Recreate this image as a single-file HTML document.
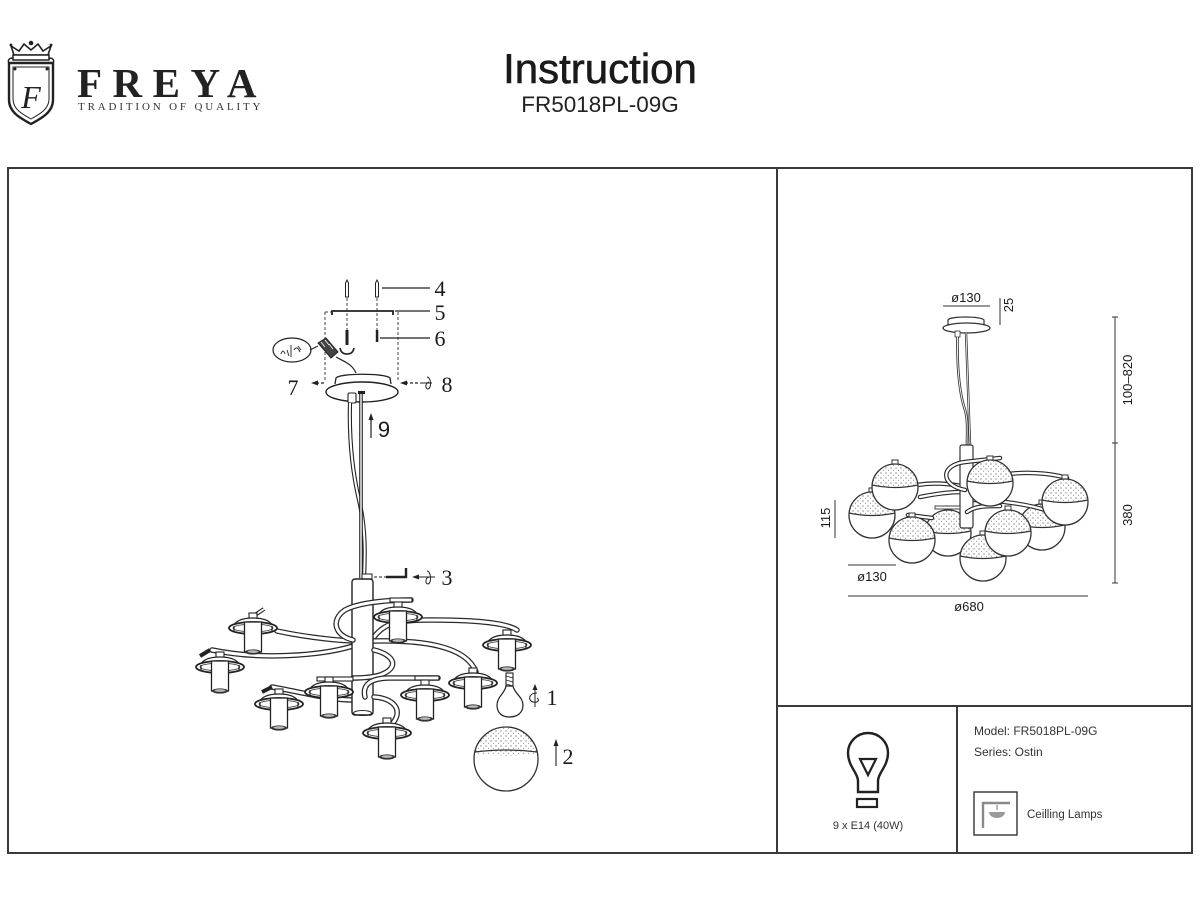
<!DOCTYPE html>
<html>
<head>
<meta charset="utf-8">
<style>
html,body{margin:0;padding:0;background:#fff;}
body{width:1200px;height:900px;overflow:hidden;}
svg{display:block;}
.to{fill:none;stroke:#2a2a2a;stroke-width:5.5;stroke-linecap:round;}
.ti{fill:none;stroke:#fff;stroke-width:3;stroke-linecap:round;}
.ln{fill:none;stroke:#222;stroke-width:1.3;}
.lbl{font-family:"Liberation Serif",serif;font-size:22px;fill:#1a1a1a;}
.dim{font-family:"Liberation Sans",sans-serif;font-size:13px;fill:#1a1a1a;}
.inf{font-family:"Liberation Sans",sans-serif;font-size:12px;fill:#333;}
</style>
</head>
<body>
<svg width="1200" height="900" viewBox="0 0 1200 900" xmlns="http://www.w3.org/2000/svg">
<defs>
  <pattern id="dots" patternUnits="userSpaceOnUse" width="5" height="5">
    <circle cx="1" cy="1" r="0.6" fill="#555"/>
    <circle cx="3.6" cy="3.2" r="0.5" fill="#666"/>
  </pattern>
  <clipPath id="gtop"><path d="M-24,-2 Q0,3 24,-2 L24,-30 L-24,-30 Z"/></clipPath>
  <g id="globe">
    <rect x="-3" y="-27" width="6" height="5" fill="#fff" stroke="#333" stroke-width="1"/>
    <circle r="23" fill="#fff"/>
    <circle r="23" fill="url(#dots)" clip-path="url(#gtop)"/>
    <path d="M-23,-2 Q0,3 23,-2" fill="none" stroke="#333" stroke-width="1.2"/>
    <circle r="23" fill="none" stroke="#333" stroke-width="1.3"/>
  </g>
  <g id="shade">
    <rect x="-4" y="-15" width="8" height="6" fill="#fff" stroke="#222" stroke-width="1.1"/>
    <path d="M-20,-1 Q-17,-10 0,-10 Q17,-10 20,-1" fill="#fff" stroke="#222" stroke-width="1.3"/>
    <ellipse rx="24" ry="6" fill="#fff" stroke="#222" stroke-width="1.8"/>
    <ellipse rx="20" ry="3.8" fill="none" stroke="#444" stroke-width="0.9"/>
    <line x1="-19" y1="-2" x2="-19" y2="4" stroke="#222" stroke-width="1.2"/>
    <line x1="19" y1="-2" x2="19" y2="4" stroke="#222" stroke-width="1.2"/>
    <rect x="-8.5" y="-6" width="17" height="30" fill="#fff" stroke="#222" stroke-width="1.3"/>
    <ellipse cx="0" cy="24" rx="8" ry="2.6" fill="#333"/>
    <ellipse cx="0" cy="23.6" rx="5.5" ry="1.3" fill="#bbb"/>
  </g>
  <!-- left arms -->
  <path id="a1" d="M353,641 C330,640 300,636 277,631"/>
  <path id="a2" d="M353,646 C320,656 260,660 212,650"/>
  <path id="a3" d="M353,640 C335,636 330,620 345,610 C360,602 390,600 411,600"/>
  <path id="a4" d="M374,637 C385,622 400,620 430,620 C470,620 505,622 517,630"/>
  <path id="a5" d="M374,641 C420,640 466,645 476,672"/>
  <path id="a6" d="M374,650 C395,655 400,668 380,675 C370,678 360,678 353,678"/>
  <path id="a7" d="M353,700 C330,700 300,692 272,687"/>
  <path id="a8" d="M365,697 C362,685 370,678 390,678 L438,678"/>
  <path id="a9" d="M374,697 C395,698 405,712 390,726"/>
  <!-- right arms -->
  <path id="r1" d="M965,490 C940,485 940,465 965,462 L1000,458"/>
  <path id="r2" d="M917,485 C935,482 950,484 961,486"/>
  <path id="r3" d="M920,497 C935,494 950,492 961,492"/>
  <path id="r4" d="M973,488 C990,470 1040,470 1067,478"/>
  <path id="r5" d="M967,512 C975,506 985,506 1000,506"/>
  <path id="r6" d="M908,515 C915,516 925,517 932,518"/>
  <path id="r7" d="M973,500 C1000,500 1030,505 1045,510"/>
</defs>

<!-- ===== Header / logo ===== -->
<g>
  <!-- crown -->
  <path d="M14,55 L11,46 L19,51 L24,44 L31,50 L38,44 L43,51 L51,46 L48,55 Z" fill="#fff" stroke="#222" stroke-width="1.6"/>
  <circle cx="31" cy="43" r="2.3" fill="#222"/>
  <circle cx="11" cy="45" r="1.4" fill="#222"/>
  <circle cx="51" cy="45" r="1.4" fill="#222"/>
  <rect x="13" y="55" width="36" height="5" fill="#fff" stroke="#222" stroke-width="1.5"/>
  <path d="M13,58 C8,58 7,62 10,63 M49,58 C54,58 55,62 52,63" fill="none" stroke="#222" stroke-width="1.5"/>
  <!-- shield -->
  <path d="M9,63 L53,63 L53,100 C53,112 42,118 31,124 C20,118 9,112 9,100 Z" fill="#fff" stroke="#222" stroke-width="2.4"/>
  <path d="M13,67 L49,67 L49,99 C49,109 40,114 31,119 C22,114 13,109 13,99 Z" fill="none" stroke="#222" stroke-width="1"/>
  <circle cx="15" cy="69" r="1.5" fill="#222"/>
  <circle cx="47" cy="69" r="1.5" fill="#222"/>
  <text x="31" y="108" text-anchor="middle" font-family="Liberation Serif,serif" font-style="italic" font-size="32" fill="#222">F</text>
  <text x="77" y="97" font-family="Liberation Serif,serif" font-weight="bold" font-size="41" letter-spacing="10.5" fill="#222">FREYA</text>
  <text x="78" y="110" font-family="Liberation Serif,serif" font-size="11" letter-spacing="2.85" fill="#333">TRADITION OF QUALITY</text>

  <text x="600" y="83" text-anchor="middle" font-family="Liberation Sans,sans-serif" font-size="42" fill="#1a1a1a" stroke="#1a1a1a" stroke-width="0.6">Instruction</text>
  <text x="600" y="112" text-anchor="middle" font-family="Liberation Sans,sans-serif" font-size="22.5" fill="#222">FR5018PL-09G</text>
</g>

<!-- ===== Frame ===== -->
<g fill="none" stroke="#3a3a3a" stroke-width="2">
  <rect x="8" y="168" width="1184" height="685"/>
  <line x1="777" y1="168" x2="777" y2="853"/>
  <line x1="777" y1="706" x2="1192" y2="706"/>
  <line x1="957" y1="706" x2="957" y2="853"/>
</g>

<!-- ===== Left assembly drawing ===== -->
<g>
  <!-- screws 4 -->
  <path d="M345.5,297 L345.5,283 L347,280 L348.5,283 L348.5,297 Z" fill="#fff" stroke="#222" stroke-width="1"/>
  <path d="M375.5,297 L375.5,283 L377,280 L378.5,283 L378.5,297 Z" fill="#fff" stroke="#222" stroke-width="1"/>
  <line x1="382" y1="288" x2="430" y2="288" class="ln"/>
  <text x="440" y="296" text-anchor="middle" class="lbl">4</text>
  <!-- dashed verticals -->
  <g stroke="#444" stroke-width="1" stroke-dasharray="3,2" fill="none">
    <line x1="347" y1="298" x2="347" y2="330"/>
    <line x1="377" y1="298" x2="377" y2="330"/>
    <line x1="325" y1="312" x2="325" y2="382"/>
    <line x1="398" y1="312" x2="398" y2="382"/>
    <line x1="325" y1="312" x2="332" y2="312"/>
  </g>
  <!-- bracket 5 -->
  <path d="M332,315 L332,311 L393,311 L393,315" fill="none" stroke="#222" stroke-width="1.8"/>
  <line x1="395" y1="311" x2="430" y2="311" class="ln"/>
  <text x="440" y="320" text-anchor="middle" class="lbl">5</text>
  <!-- screws 6 -->
  <rect x="345.5" y="330" width="3" height="15" fill="#222"/>
  <rect x="375.8" y="330" width="2.5" height="12" fill="#222"/>
  <path d="M340,348 Q341,354 347,354 Q353,354 354,348" fill="none" stroke="#222" stroke-width="1.6"/>
  <line x1="380" y1="338" x2="430" y2="338" class="ln"/>
  <text x="440" y="346" text-anchor="middle" class="lbl">6</text>
  <!-- terminal block -->
  <ellipse cx="292" cy="350" rx="19" ry="12" fill="#fff" stroke="#222" stroke-width="1.2"/>
  <path d="M281,354 q2,-6 4,0 M287,350 l2,6 M291,345 l0,12 M294,350 q3,-5 6,2 M298,346 l3,4" fill="none" stroke="#333" stroke-width="1"/>
  <line x1="310" y1="350" x2="318" y2="346" stroke="#222" stroke-width="1"/>
  <path d="M318,343 L326,338 L338,352 L331,358 Z" fill="#444" stroke="#222" stroke-width="1"/>
  <path d="M321,342 l4,5 M325,340 l4,5 M329,344 l4,5" stroke="#fff" stroke-width="0.8"/>
  <path d="M336,357 C345,362 352,364 356,373" fill="none" stroke="#222" stroke-width="1.2"/>
  <!-- canopy -->
  <path d="M335,384 L336,378 C340,373 385,373 390,378 L391,384" fill="#fff" stroke="#222" stroke-width="1.3"/>
  <ellipse cx="362" cy="392" rx="36" ry="10" fill="#fff" stroke="#222" stroke-width="1.4"/>
  <!-- 7 -->
  <g stroke="#222" stroke-width="1.2" stroke-dasharray="3,2"><line x1="316" y1="383" x2="325" y2="383"/></g>
  <path d="M311,383 L318,380.5 L318,385.5 Z" fill="#222"/>
  <text x="293" y="395" text-anchor="middle" class="lbl">7</text>
  <!-- 8 -->
  <g stroke="#222" stroke-width="1.2" stroke-dasharray="3,2"><line x1="405" y1="383" x2="420" y2="383"/></g>
  <path d="M400,383 L407,380.5 L407,385.5 Z" fill="#222"/>
  <path d="M427,377 C431,377 432,388 428,389 C425,389 425,383 429,382" fill="none" stroke="#222" stroke-width="1"/>
  <line x1="420" y1="383" x2="432" y2="383" stroke="#222" stroke-width="1"/>
  <text x="447" y="392" text-anchor="middle" class="lbl">8</text>
  <!-- cables -->
  <rect x="348" y="393" width="8" height="10" rx="1.5" fill="#fff" stroke="#222" stroke-width="1.1"/>
  <path d="M350,403 C349,440 352,470 359,500 C366,530 365,555 364,578" fill="none" stroke="#222" stroke-width="4.2"/>
  <path d="M350,403 C349,440 352,470 359,500 C366,530 365,555 364,578" fill="none" stroke="#fff" stroke-width="2"/>
  <line x1="361" y1="394" x2="361" y2="578" stroke="#222" stroke-width="3.6"/>
  <line x1="361" y1="394" x2="361" y2="578" stroke="#fff" stroke-width="1.4"/>
  <rect x="358" y="391" width="7" height="3" fill="#222"/>
  <!-- 9 -->
  <line x1="371" y1="438" x2="371" y2="418" stroke="#222" stroke-width="1.2"/>
  <path d="M371,413 L368.5,420 L373.5,420 Z" fill="#222"/>
  <text x="384" y="437" text-anchor="middle" font-family="Liberation Sans,sans-serif" font-size="22" fill="#1a1a1a">9</text>
  <!-- 3 -->
  <g stroke="#222" stroke-width="1.1" stroke-dasharray="3,2"><line x1="374" y1="577" x2="386" y2="577"/></g>
  <path d="M386,577 L406,577 L406,568" fill="none" stroke="#222" stroke-width="2.4"/>
  <line x1="417" y1="577" x2="435" y2="577" stroke="#222" stroke-width="1"/>
  <path d="M412,577 L419,574.5 L419,579.5 Z" fill="#222"/>
  <path d="M427,571 C431,571 432,583 428,584 C425,584 425,578 429,577" fill="none" stroke="#222" stroke-width="1"/>
  <text x="447" y="585" text-anchor="middle" class="lbl">3</text>

  <!-- back arms -->
  <use href="#a1" class="to"/><use href="#a1" class="ti"/>
  <use href="#a2" class="to"/><use href="#a2" class="ti"/>
  <use href="#a4" class="to"/><use href="#a4" class="ti"/>
  <use href="#a5" class="to"/><use href="#a5" class="ti"/>
  <use href="#a7" class="to"/><use href="#a7" class="ti"/>
  <!-- pole -->
  <rect x="362" y="574" width="10" height="6" fill="#fff" stroke="#222" stroke-width="1"/>
  <rect x="352" y="579" width="21" height="136" rx="3" fill="#fff" stroke="#222" stroke-width="1.4"/>
  <ellipse cx="362.5" cy="713" rx="9" ry="2.5" fill="none" stroke="#222" stroke-width="1"/>
  <!-- front arms -->
  <use href="#a3" class="to"/><use href="#a3" class="ti"/>
  <use href="#a6" class="to"/><use href="#a6" class="ti"/>
  <use href="#a8" class="to"/><use href="#a8" class="ti"/>
  <use href="#a9" class="to"/><use href="#a9" class="ti"/>
  <rect x="317" y="677" width="36" height="4" fill="#fff" stroke="#222" stroke-width="1.1"/>
  <rect x="415" y="676" width="24" height="4" fill="#fff" stroke="#222" stroke-width="1.1"/>
  <rect x="390" y="598" width="22" height="4" fill="#fff" stroke="#222" stroke-width="1.1"/>
  <!-- stubs -->
  <path d="M255,615 L264,609" stroke="#222" stroke-width="4"/><path d="M255,615 L264,609" stroke="#fff" stroke-width="1.8"/>
  <path d="M210,650 L200,656" stroke="#222" stroke-width="4"/>
  <path d="M272,687 L262,692" stroke="#222" stroke-width="4"/>
  <!-- shades -->
  <use href="#shade" x="253" y="628"/>
  <use href="#shade" x="398" y="617"/>
  <use href="#shade" x="507" y="645"/>
  <use href="#shade" x="220" y="667"/>
  <use href="#shade" x="329" y="692"/>
  <use href="#shade" x="473" y="683"/>
  <use href="#shade" x="425" y="695"/>
  <use href="#shade" x="279" y="704"/>
  <use href="#shade" x="387" y="733"/>

  <!-- bulb 1 -->
  <rect x="506" y="673" width="7" height="13" fill="#fff" stroke="#222" stroke-width="1.1"/>
  <path d="M506,676 l7,2 M506,680 l7,2 M506,684 l7,2" stroke="#222" stroke-width="0.8"/>
  <path d="M506,686 L513,686 C514,693 523,697 523,705 C523,713 517,717 509.5,717 C502,717 497,713 497,705 C497,697 505,693 506,686 Z" fill="#fff" stroke="#222" stroke-width="1.2"/>
  <line x1="535" y1="707" x2="535" y2="688" stroke="#222" stroke-width="1"/>
  <path d="M535,684 L532.5,690 L537.5,690 Z" fill="#222"/>
  <path d="M537,693 C528,693 528,701 533,702 C538,703 540,700 537,698" fill="none" stroke="#222" stroke-width="1"/>
  <text x="552" y="705" text-anchor="middle" class="lbl">1</text>
  <!-- globe 2 -->
  <clipPath id="lg"><path d="M470,752 Q506,760 542,752 L542,720 L470,720 Z"/></clipPath>
  <circle cx="506" cy="759" r="32" fill="#fff"/>
  <circle cx="506" cy="759" r="32" fill="url(#dots)" clip-path="url(#lg)"/>
  <path d="M475,752 Q506,748 537,752" fill="none" stroke="#333" stroke-width="1.2"/>
  <circle cx="506" cy="759" r="32" fill="none" stroke="#333" stroke-width="1.3"/>
  <line x1="556" y1="766" x2="556" y2="745" stroke="#222" stroke-width="1.1"/>
  <path d="M556,739 L553.5,746 L558.5,746 Z" fill="#222"/>
  <text x="568" y="764" text-anchor="middle" class="lbl">2</text>
</g>

<!-- ===== Right dimension drawing ===== -->
<g>
  <!-- top dims -->
  <line x1="943" y1="306" x2="990" y2="306" stroke="#333" stroke-width="1"/>
  <text x="966" y="302" text-anchor="middle" class="dim">ø130</text>
  <line x1="1000" y1="298" x2="1000" y2="325" stroke="#333" stroke-width="1"/>
  <text transform="translate(1013,305) rotate(-90)" text-anchor="middle" class="dim">25</text>
  <!-- canopy -->
  <path d="M948,325 L948,320 C950,316 981,316 984,320 L984,325" fill="#fff" stroke="#333" stroke-width="1.2"/>
  <ellipse cx="966.5" cy="328" rx="23.5" ry="5" fill="#fff" stroke="#333" stroke-width="1.3"/>
  <!-- cables -->
  <rect x="955" y="331" width="5" height="6" fill="#fff" stroke="#333" stroke-width="0.8"/>
  <path d="M957.5,337 C957,370 960,395 965,410 C968,420 967,430 967,445" fill="none" stroke="#333" stroke-width="2.6"/>
  <path d="M957.5,337 C957,370 960,395 965,410 C968,420 967,430 967,445" fill="none" stroke="#fff" stroke-width="0.9"/>
  <line x1="966" y1="332" x2="970" y2="445" stroke="#333" stroke-width="2.4"/>
  <line x1="966" y1="332" x2="970" y2="445" stroke="#fff" stroke-width="0.8"/>
  <!-- back globes -->
  <use href="#globe" x="948" y="533"/>
  <use href="#globe" x="872" y="515"/>
  <use href="#globe" x="1042" y="527"/>
  <use href="#globe" x="983" y="558"/>
  <!-- arms -->
  <g transform="translate(0,0)">
    <use href="#r2" class="to" style="stroke-width:4.5"/><use href="#r2" class="ti" style="stroke-width:2.2"/>
    <use href="#r3" class="to" style="stroke-width:4.5"/><use href="#r3" class="ti" style="stroke-width:2.2"/>
    <use href="#r4" class="to" style="stroke-width:4.5"/><use href="#r4" class="ti" style="stroke-width:2.2"/>
    <use href="#r7" class="to" style="stroke-width:4.5"/><use href="#r7" class="ti" style="stroke-width:2.2"/>
    <use href="#r6" class="to" style="stroke-width:4.5"/><use href="#r6" class="ti" style="stroke-width:2.2"/>
  </g>
  <!-- pole -->
  <rect x="960" y="445" width="13" height="83" rx="2" fill="#fff" stroke="#333" stroke-width="1.2"/>
  <use href="#r1" class="to" style="stroke-width:4.5"/><use href="#r1" class="ti" style="stroke-width:2.2"/>
  <use href="#r5" class="to" style="stroke-width:4.5"/><use href="#r5" class="ti" style="stroke-width:2.2"/>
  <rect x="935" y="506" width="25" height="3" fill="#fff" stroke="#333" stroke-width="0.9"/>
  <!-- front globes -->
  <use href="#globe" x="895" y="487"/>
  <use href="#globe" x="990" y="483"/>
  <use href="#globe" x="1065" y="502"/>
  <use href="#globe" x="1008" y="533"/>
  <use href="#globe" x="912" y="540"/>
  <!-- side dims -->
  <line x1="1115" y1="317" x2="1115" y2="583" stroke="#333" stroke-width="1"/>
  <line x1="1112" y1="317" x2="1118" y2="317" stroke="#333" stroke-width="1"/>
  <line x1="1112" y1="443" x2="1118" y2="443" stroke="#333" stroke-width="1"/>
  <line x1="1112" y1="583" x2="1118" y2="583" stroke="#333" stroke-width="1"/>
  <text transform="translate(1132,380) rotate(-90)" text-anchor="middle" class="dim">100–820</text>
  <text transform="translate(1132,515) rotate(-90)" text-anchor="middle" class="dim">380</text>
  <line x1="835" y1="500" x2="835" y2="538" stroke="#333" stroke-width="1"/>
  <text transform="translate(830,518) rotate(-90)" text-anchor="middle" class="dim">115</text>
  <line x1="848" y1="565" x2="896" y2="565" stroke="#333" stroke-width="1"/>
  <text x="872" y="581" text-anchor="middle" class="dim">ø130</text>
  <line x1="848" y1="596" x2="1088" y2="596" stroke="#333" stroke-width="1"/>
  <text x="969" y="611" text-anchor="middle" class="dim">ø680</text>
</g>

<!-- ===== Bottom info boxes ===== -->
<g>
  <path d="M858,792 L858,781 C858,773 848,766 848,753 A20,20 0 1 1 888,753 C888,766 878,773 878,781 L878,792 Z" fill="none" stroke="#222" stroke-width="2.4"/>
  <path d="M860,759 L876,759 L868,775 Z" fill="none" stroke="#222" stroke-width="2.2"/>
  <rect x="857" y="799" width="20" height="8" fill="none" stroke="#222" stroke-width="2.2"/>
  <text x="868" y="829" text-anchor="middle" font-family="Liberation Sans,sans-serif" font-size="11" fill="#333">9 x E14 (40W)</text>

  <text x="974" y="735" class="inf">Model: FR5018PL-09G</text>
  <text x="974" y="756" class="inf">Series: Ostin</text>
  <rect x="974" y="792" width="43" height="43" fill="#fff" stroke="#333" stroke-width="1.4"/>
  <path d="M983,828 L983,803 L1010,803" fill="none" stroke="#8a8a8a" stroke-width="2.4"/>
  <line x1="997" y1="805" x2="997" y2="810" stroke="#888" stroke-width="1.2"/>
  <path d="M989,812 L1005,812 A8,6 0 0 1 989,812 Z" fill="#999"/>
  <text x="1027" y="818" class="inf" style="font-size:11.5px">Ceilling Lamps</text>
</g>
</svg>
</body>
</html>
